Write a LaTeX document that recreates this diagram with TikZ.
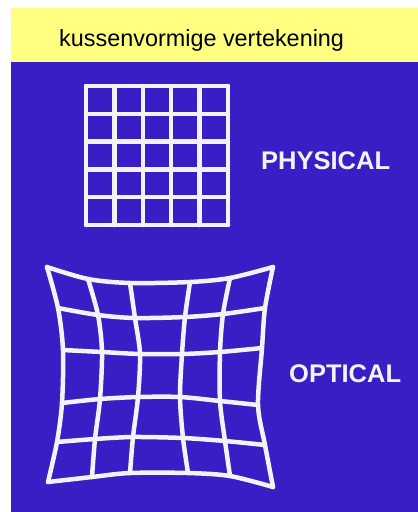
\documentclass[tikz,border=0pt]{standalone}
\usepackage{fontspec}
\setmainfont{Liberation Sans}
\usetikzlibrary{positioning}
\definecolor{slideblue}{RGB}{56,30,196}
\definecolor{titleyellow}{RGB}{255,255,130}
\definecolor{chalk}{RGB}{242,242,248}

\begin{document}
\begin{tikzpicture}[x=1pt, y=-1pt,
    gridline/.style={draw=chalk, line width=4.5pt, line cap=round, line join=round},
    gridlabel/.style={text=chalk, anchor=base west, inner sep=0pt, font=\fontsize{25.5}{25.5}\selectfont\bfseries}
]
\useasboundingbox (0,0) rectangle (418,512);
\fill[white] (0,0) rectangle (418,512);
\fill[titleyellow] (11,8) rectangle (418,62);
\fill[slideblue] (11,62) rectangle (418,512);
\node[anchor=base west, inner sep=0pt, font=\fontsize{23.4}{23.4}\selectfont] (title) at (59,46) {kussenvormige vertekening};

\foreach \i in {0,...,5} {
  \draw[gridline] ({86+28.4*\i},86) -- ({86+28.4*\i},225);
  \draw[gridline] (86,{86+27.8*\i}) -- (228,{86+27.8*\i});
}

\foreach \n/\x/\y in {00/47/267, 01/88/279, 02/130/283, 03/190/282, 04/230/278, 05/273/267,
                      10/58/308, 11/98/315, 12/135/318, 13/185/317, 14/223/314, 15/265/308,
                      20/63/350, 21/102/352, 22/140/354, 23/182/354, 24/220/352, 25/262/348,
                      30/62/403, 31/100/399, 32/138/397, 33/180/397, 34/220/401, 35/258/405,
                      40/57/442, 41/95/439, 42/133/437, 43/183/438, 44/225/441, 45/265/445,
                      50/48/482, 51/92/477, 52/130/473, 53/188/473, 54/230/476, 55/273/487}
  \coordinate (p\n) at (\x,\y);
\foreach \r in {0,...,5} {
  \draw[gridline] plot[smooth] coordinates {(p\r0) (p\r1) (p\r2) (p\r3) (p\r4) (p\r5)};
  \draw[gridline] plot[smooth] coordinates {(p0\r) (p1\r) (p2\r) (p3\r) (p4\r) (p5\r)};
}

\node[gridlabel] (physical) at (261,169) {PHYSICAL};
\node[gridlabel] (optical) at (289,382) {OPTICAL};
\end{tikzpicture}
\end{document}
